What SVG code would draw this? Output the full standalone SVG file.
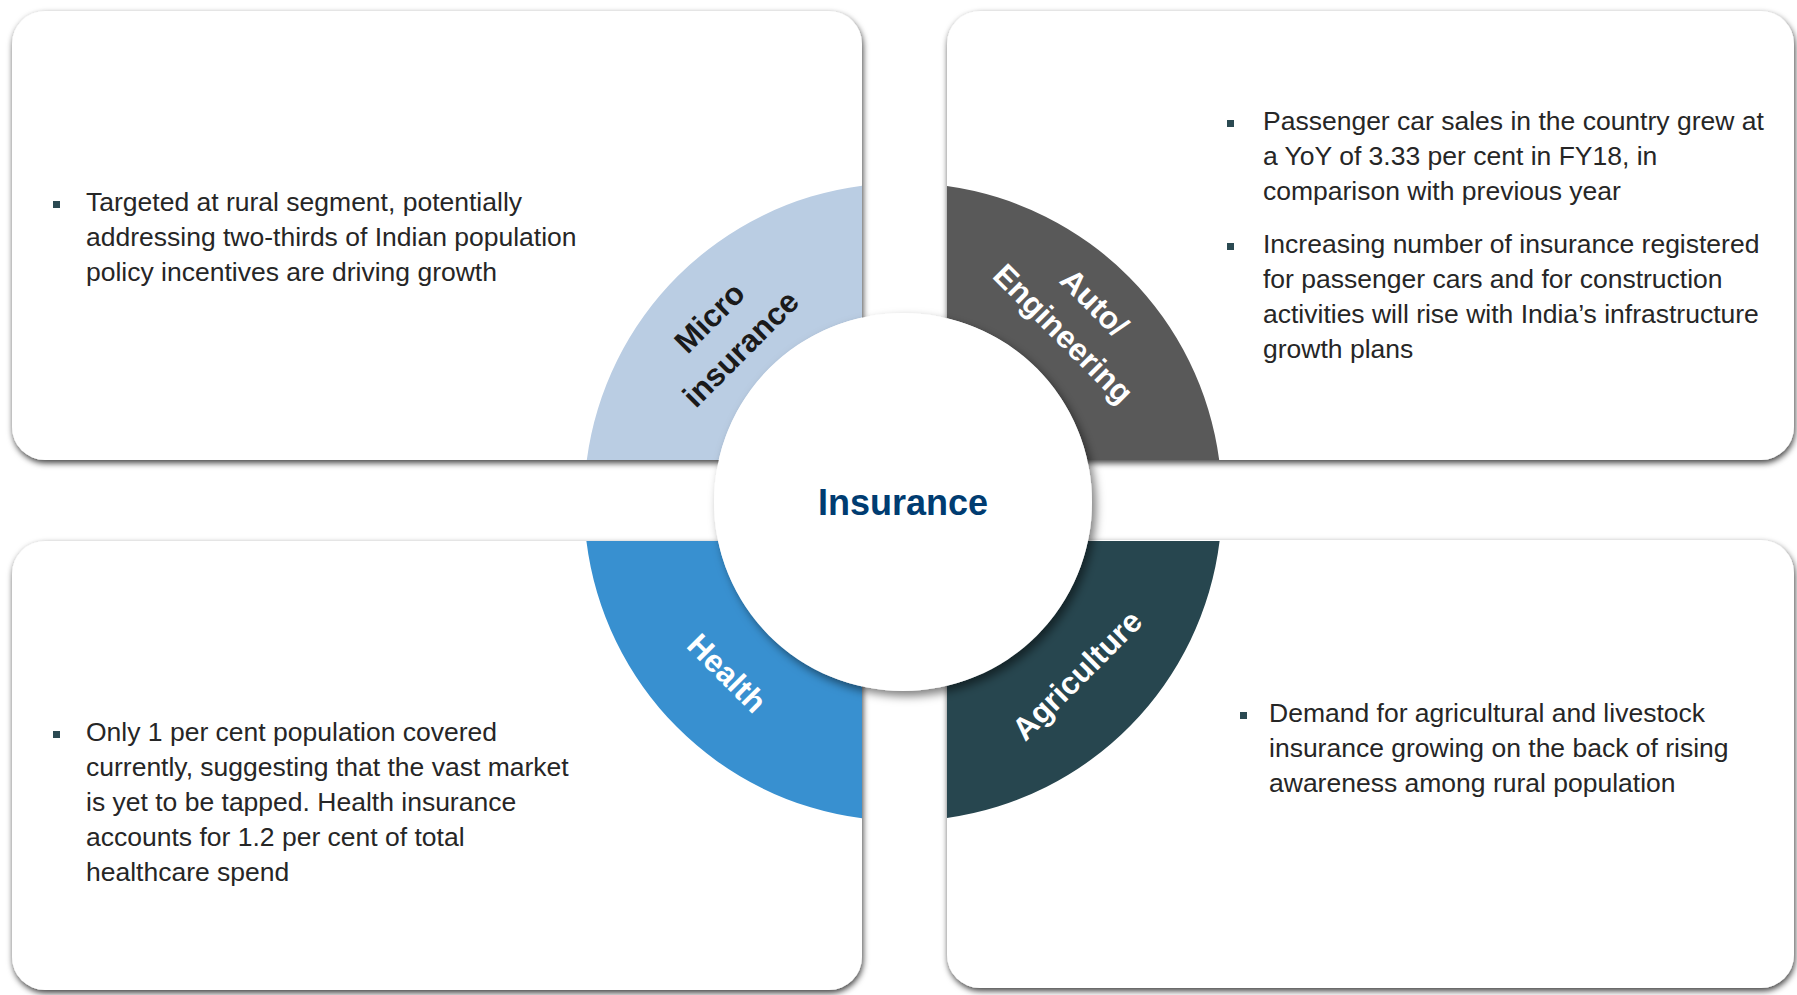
<svg xmlns="http://www.w3.org/2000/svg" width="1797" height="995" viewBox="0 0 1797 995">
<style>
.card{fill:#ffffff;filter:url(#cardShadow)}
.body{font-family:"Liberation Sans",Arial,sans-serif;font-size:26.5px;fill:#262626}
.bullet{fill:#2b4a52}
.lbl{font-family:"Liberation Sans",Arial,sans-serif;font-size:31.5px;font-weight:bold;text-anchor:middle}
.title{font-family:"Liberation Sans",Arial,sans-serif;font-size:36px;font-weight:bold;fill:#003c71;text-anchor:middle}
</style>
<defs>
<filter id="cardShadow" x="-5%" y="-5%" width="110%" height="112%">
<feDropShadow dx="1" dy="3" stdDeviation="3" flood-color="#000" flood-opacity="0.75"/>
</filter>
<filter id="circShadow" x="-10%" y="-10%" width="125%" height="125%">
<feDropShadow dx="4" dy="5" stdDeviation="5" flood-color="#000" flood-opacity="0.5"/>
</filter>
</defs>
<rect width="1797" height="995" fill="#ffffff"/>

<g id="card-micro">
<rect class="card" x="12" y="11" width="850" height="449" rx="33"/>
<path d="M862,185.65 A319,319 0 0 0 586.8,460 L718.7,460 A189,189 0 0 1 862,317.5 Z" fill="#bacde3"/>
<rect class="bullet" x="53" y="201" width="7" height="7"/>
<text class="body"><tspan x="86" y="211">Targeted at rural segment, potentially</tspan><tspan x="86" y="246">addressing two-thirds of Indian population</tspan><tspan x="86" y="281">policy incentives are driving growth</tspan></text>
</g>

<g id="card-auto">
<rect class="card" x="947" y="11" width="847" height="449" rx="33"/>
<path d="M947,186.05 A319,319 0 0 1 1219.2,460 L1087.3,460 A189,189 0 0 0 947,318.2 Z" fill="#595959"/>
<rect class="bullet" x="1227" y="120" width="7" height="7"/>
<text class="body"><tspan x="1263" y="130">Passenger car sales in the country grew at</tspan><tspan x="1263" y="165">a YoY of 3.33 per cent in FY18, in</tspan><tspan x="1263" y="200">comparison with previous year</tspan></text>
<rect class="bullet" x="1227" y="243" width="7" height="7"/>
<text class="body"><tspan x="1263" y="253">Increasing number of insurance registered</tspan><tspan x="1263" y="288">for passenger cars and for construction</tspan><tspan x="1263" y="323">activities will rise with India’s infrastructure</tspan><tspan x="1263" y="358">growth plans</tspan></text>
</g>

<g id="card-health">
<rect class="card" x="12" y="541" width="850" height="449" rx="33"/>
<path d="M586.4,541 A319,319 0 0 0 862,818.35 L862,686.5 A189,189 0 0 1 718.1,541 Z" fill="#3890d0"/>
<rect class="bullet" x="53" y="731" width="7" height="7"/>
<text class="body"><tspan x="86" y="741">Only 1 per cent population covered</tspan><tspan x="86" y="776">currently, suggesting that the vast market</tspan><tspan x="86" y="811">is yet to be tapped. Health insurance</tspan><tspan x="86" y="846">accounts for 1.2 per cent of total</tspan><tspan x="86" y="881">healthcare spend</tspan></text>
</g>

<g id="card-agri">
<rect class="card" x="947" y="540" width="847" height="448" rx="33"/>
<path d="M947,817.95 A319,319 0 0 0 1219.6,541 L1087.9,541 A189,189 0 0 1 947,685.8 Z" fill="#27464f"/>
<rect class="bullet" x="1240" y="712" width="7" height="7"/>
<text class="body"><tspan x="1269" y="722">Demand for agricultural and livestock</tspan><tspan x="1269" y="757">insurance growing on the back of rising</tspan><tspan x="1269" y="792">awareness among rural population</tspan></text>
</g>

<g id="center">
<circle cx="903" cy="502" r="189" fill="#ffffff" filter="url(#circShadow)"/>
<text class="title" x="903" y="515">Insurance</text>
</g>

<g id="labels">
<text class="lbl" fill="#1a1a1a" transform="translate(725,333) rotate(-45)"><tspan x="0" y="-11">Micro</tspan><tspan x="0" y="33">insurance</tspan></text>
<text class="lbl" fill="#ffffff" transform="translate(1079,318) rotate(45)"><tspan x="0" y="-11">Auto/</tspan><tspan x="0" y="33">Engineering</tspan></text>
<text class="lbl" fill="#ffffff" transform="translate(727,673) rotate(45)"><tspan x="0" y="11">Health</tspan></text>
<text class="lbl" fill="#ffffff" transform="translate(1077,675) rotate(-45)"><tspan x="0" y="11">Agriculture</tspan></text>
</g>
<g id="connectors"></g>
</svg>
